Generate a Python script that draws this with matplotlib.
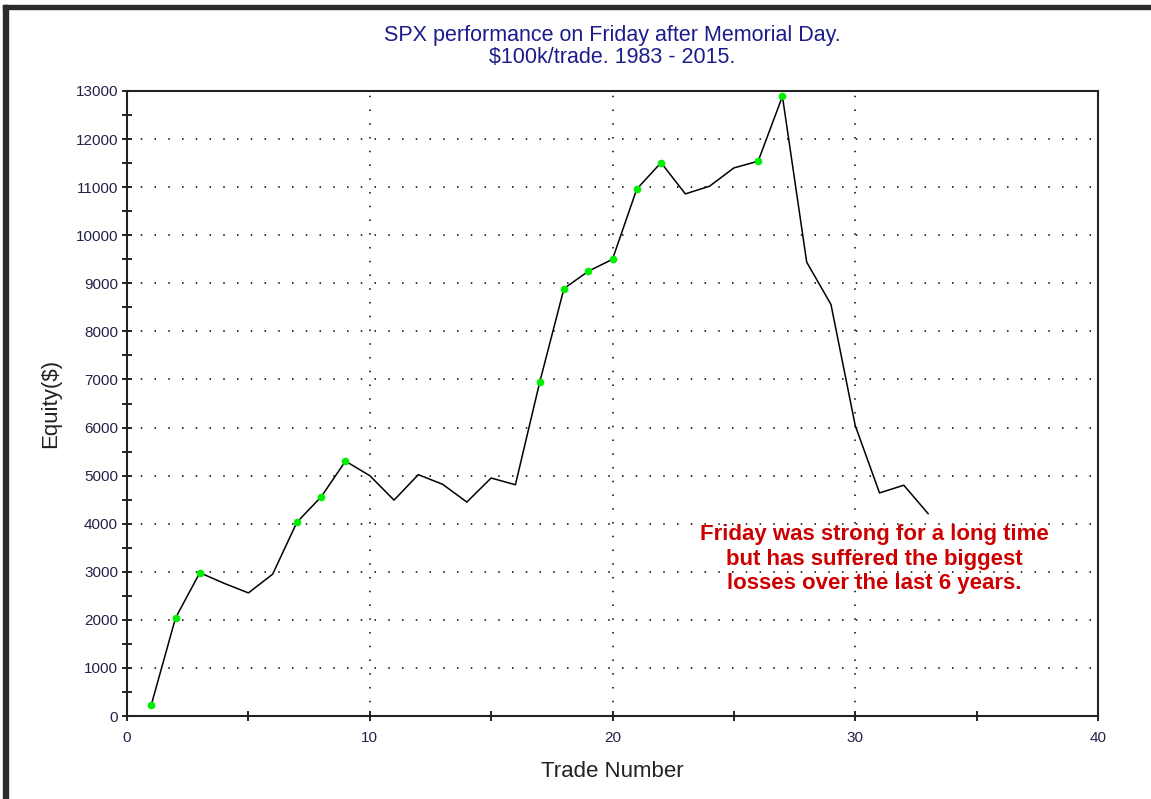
import numpy as np
import matplotlib
matplotlib.use("Agg")
import matplotlib.pyplot as plt
from matplotlib.patches import Rectangle
from matplotlib.ticker import MultipleLocator

# equity curve, one value per trade
trades = np.arange(1, 34)
equity = [230, 2040, 2980, 2760, 2560, 2950, 4030, 4560, 5300, 5000,
          4490, 5020, 4820, 4450, 4950, 4810, 6940, 8890, 9250, 9500,
          10960, 11510, 10860, 11020, 11400, 11540, 12890, 9440, 8560, 6040,
          4640, 4800, 4210]
# trades that made a new equity high (green dots)
new_highs = [1, 2, 3, 7, 8, 9, 17, 18, 19, 20, 21, 22, 26, 27]

title = "SPX performance on Friday after Memorial Day.\n$100k/trade. 1983 - 2015."
note = "Friday was strong for a long time\nbut has suffered the biggest\nlosses over the last 6 years."

plt.rcParams['font.family'] = ['Liberation Sans', 'DejaVu Sans']
plt.rcParams['mathtext.default'] = 'regular'

fig = plt.figure(figsize=(11.51, 7.99), dpi=100)
ax = fig.add_axes([127 / 1151, 1 - 716 / 799, 971 / 1151, 625 / 799])

# dark frame on the top and left edges
fig.patches.append(Rectangle((3 / 1151, 0), 5 / 1151, 1 - 5 / 799, transform=fig.transFigure,
                             color='#2b2b2b', zorder=5))
fig.patches.append(Rectangle((3 / 1151, 1 - 9 / 799), 1 - 3 / 1151, 4 / 799, transform=fig.transFigure,
                             color='#2b2b2b', zorder=5))

ax.plot(trades, equity, color='black', linewidth=1.1, zorder=3)
hi_idx = [t - 1 for t in new_highs]
ax.plot(np.array(trades)[hi_idx], np.array(equity)[hi_idx], 'o', color='#00ee00',
        markersize=5.5, markeredgewidth=0, zorder=4)

ax.set_xlim(0, 40)
ax.set_ylim(0, 13000)
ax.xaxis.set_major_locator(MultipleLocator(10))
ax.xaxis.set_minor_locator(MultipleLocator(5))
ax.yaxis.set_major_locator(MultipleLocator(1000))
ax.yaxis.set_minor_locator(MultipleLocator(500))
ax.tick_params(which='both', direction='inout', length=7, width=1.2, colors='black',
               labelcolor='#22224a', labelsize=11)
ax.tick_params(axis='x', pad=7)
ax.tick_params(axis='y', pad=3)

ax.grid(True, which='major', color='black', linestyle=(0, (1, 8)), linewidth=1.1)
for s in ax.spines.values():
    s.set_linewidth(1.5)
    s.set_color('#222222')

ax.set_title(title, color='#1c1c8c', fontsize=15.5, pad=20, linespacing=1.05)
ax.set_xlabel("Trade Number", fontsize=16, color='#222222', labelpad=12)
ax.set_ylabel("Equity($)", fontsize=16, color='#222222', labelpad=10)

ax.text(30.8, 3990, note, color='#cc0000', fontsize=16, fontweight='bold',
        ha='center', va='top', linespacing=1.22, zorder=5)

fig.savefig("out.png", dpi=100)
